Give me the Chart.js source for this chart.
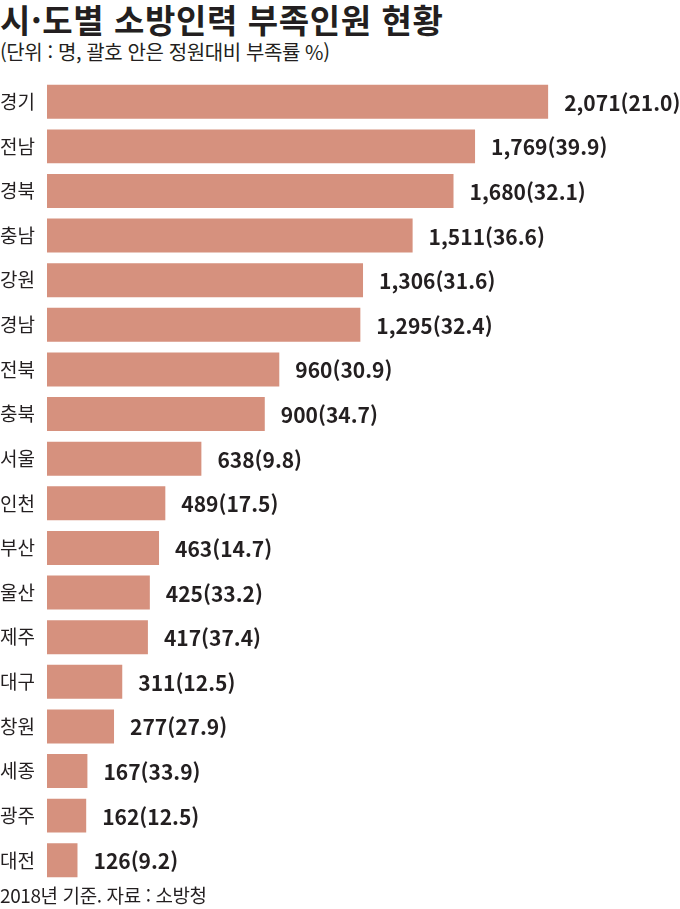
<!DOCTYPE html>
<html lang="ko">
<head>
<meta charset="utf-8">
<script src="https://cdn.jsdelivr.net/npm/chart.js@4.4.0/dist/chart.umd.min.js"></script>
<style>
  html, body { margin: 0; padding: 0; background: #fff; }
  body { width: 680px; height: 909px; position: relative; overflow: hidden;
         font-family: "Noto Sans CJK KR", "Noto Sans", sans-serif; color: #231f20; }
  #title { position: absolute; left: 0; top: 3px; font-size: 33px; line-height: 33px; font-weight: 700; letter-spacing: 0.6px; }
  #sub { position: absolute; left: 0; top: 42px; font-size: 20px; line-height: 20px; letter-spacing: -0.4px; }
  #foot { position: absolute; left: 0; top: 885px; font-size: 19px; line-height: 20px; letter-spacing: -0.4px; }
  #wrap { position: absolute; left: 0; top: 68px; width: 680px; height: 826px; }
</style>
</head>
<body>
<div id="title">시·도별 소방인력 부족인원 현황</div>
<div id="sub">(단위 : 명, 괄호 안은 정원대비 부족률 %)</div>
<div id="wrap"><canvas id="chart"></canvas></div>
<div id="foot">2018년 기준. 자료 : 소방청</div>
<script>
// 시·도별 부족인원 (명) / 정원대비 부족률 (%)
const regions = ["경기", "전남", "경북", "충남", "강원", "경남", "전북", "충북", "서울",
  "인천", "부산", "울산", "제주", "대구", "창원", "세종", "광주", "대전"];
const shortage = [2071, 1769, 1680, 1511, 1306, 1295, 960, 900, 638,
  489, 463, 425, 417, 311, 277, 167, 162, 126];
const rate = ["21.0", "39.9", "32.1", "36.6", "31.6", "32.4", "30.9", "34.7", "9.8",
  "17.5", "14.7", "33.2", "37.4", "12.5", "27.9", "33.9", "12.5", "9.2"];

const fontFamily = '"Noto Sans CJK KR", "Noto Sans", sans-serif';

// value labels drawn right after each bar
const valueLabels = {
  id: "valueLabels",
  afterDatasetsDraw(chart) {
    const ctx = chart.ctx;
    const meta = chart.getDatasetMeta(0);
    ctx.save();
    ctx.font = "bold 21px " + fontFamily;
    ctx.fillStyle = "#231f20";
    ctx.textBaseline = "middle";
    ctx.textAlign = "left";
    meta.data.forEach((bar, i) => {
      const text = shortage[i].toLocaleString("en-US") + "(" + rate[i] + ")";
      ctx.fillText(text, bar.x + 16, bar.y + 1);
    });
    ctx.restore();
  },
};

new Chart(document.getElementById("chart"), {
  type: "bar",
  data: {
    labels: regions,
    datasets: [
      {
        data: shortage,
        backgroundColor: "#d6917e",
        borderWidth: 0,
        barPercentage: 0.76,
        categoryPercentage: 1.0,
      },
    ],
  },
  options: {
    indexAxis: "y",
    responsive: true,
    maintainAspectRatio: false,
    animation: false,
    layout: { padding: 0 },
    plugins: {
      legend: { display: false },
      tooltip: { enabled: false },
    },
    scales: {
      x: { display: false, min: 0, max: 2616 },
      y: {
        grid: { display: false },
        border: { display: false },
        ticks: {
          crossAlign: "far",
          padding: 0,
          font: { family: fontFamily, size: 19 },
          color: "#231f20",
        },
        afterFit: (scale) => { scale.width = 47; },
      },
    },
  },
  plugins: [valueLabels],
});
</script>
</body>
</html>
